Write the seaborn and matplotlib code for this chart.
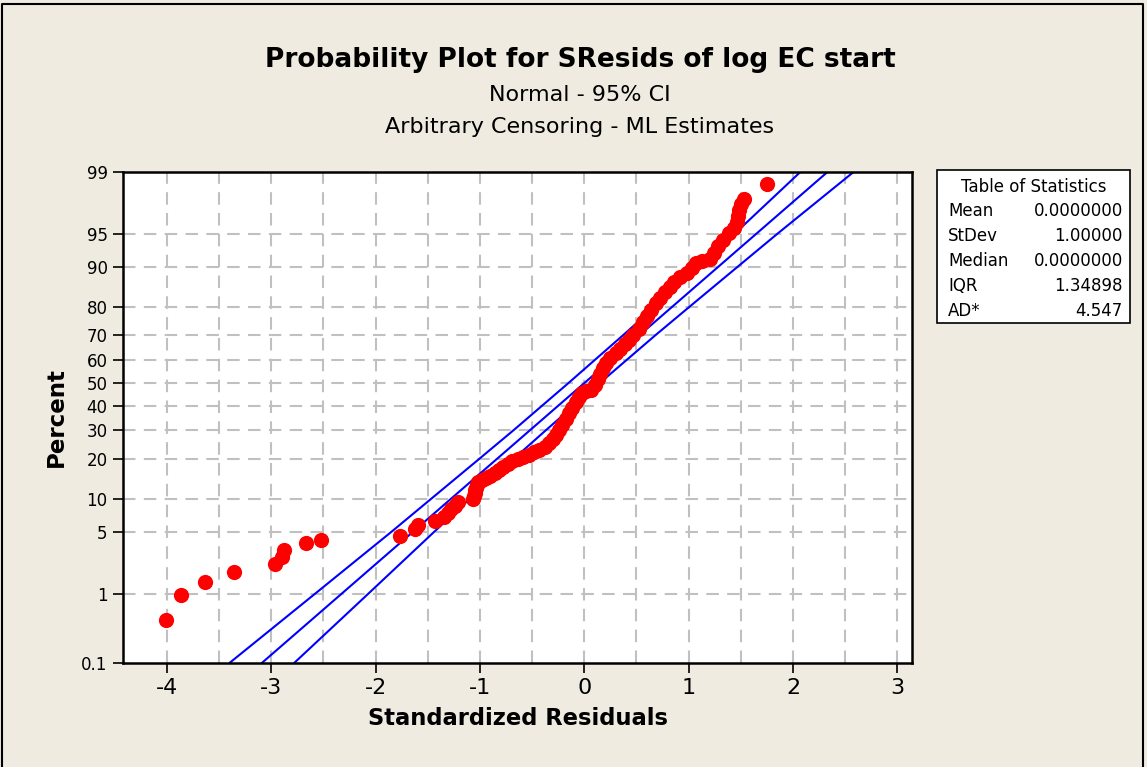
import numpy as np
import matplotlib
matplotlib.use("Agg")
import matplotlib.pyplot as plt
from matplotlib.lines import Line2D
from matplotlib.patches import Rectangle
import seaborn as sns
from statistics import NormalDist

# ---------------- data ----------------
resid_x = [-4.01, -3.86, -3.63, -3.36, -2.96, -2.90, -2.88, -2.67, -2.52,
           -1.77, -1.62, -1.59, -1.43, -1.34, -1.31, -1.28, -1.24, -1.21,
           -1.07, -1.06, -1.05, -1.05, -1.04, -1.03, -1.02, -0.98, -0.94,
           -0.90, -0.86, -0.82, -0.78, -0.73, -0.69, -0.64, -0.59, -0.53,
           -0.48, -0.43, -0.38, -0.34, -0.30, -0.27, -0.24, -0.21, -0.18,
           -0.15, -0.12, -0.08, -0.05, -0.02, 0.02, 0.06, 0.10, 0.13,
           0.15, 0.18, 0.21, 0.25, 0.30, 0.34, 0.39, 0.43, 0.47,
           0.52, 0.56, 0.60, 0.64, 0.69, 0.73, 0.77, 0.82, 0.86,
           0.92, 0.98, 1.03, 1.07, 1.13, 1.20, 1.24, 1.28, 1.33,
           1.39, 1.43, 1.46, 1.47, 1.48, 1.50, 1.53, 1.75]
resid_pct = [0.45, 0.95, 1.42, 1.85, 2.3, 2.77, 3.3, 3.85, 4.2,
             4.6, 5.3, 5.8, 6.4, 7.0, 7.6, 8.2, 8.8, 9.4,
             10.0, 10.6, 11.2, 11.8, 12.4, 13.0, 13.6, 14.1, 14.6,
             15.2, 15.9, 16.8, 17.8, 18.6, 19.3, 20.2, 20.8, 21.4,
             22.2, 23.0, 24.1, 25.3, 26.8, 28.4, 30.2, 32.3, 34.5,
             36.9, 39.0, 41.5, 44.0, 45.5, 46.3, 47.0, 49.0, 51.5,
             54.0, 56.5, 58.6, 60.8, 62.8, 64.5, 66.5, 68.2, 70.2,
             72.5, 74.8, 77.0, 79.0, 81.0, 82.6, 84.1, 85.6, 86.8,
             87.8, 88.8, 89.8, 90.7, 91.0, 91.4, 92.4, 93.4, 94.3,
             95.1, 95.6, 96.2, 96.7, 97.2, 97.6, 97.9, 98.6]

fit_x = [-3.09, 2.33]
fit_pct = [0.1, 99]

band_pct = [0.1, 1, 5, 10, 20, 30, 50, 70, 80, 90, 95, 99]
band_lower_x = [-3.40, -2.58, -1.85, -1.47, -1.01, -0.68, -0.15, 0.37, 0.68, 1.10, 1.44, 2.07]
band_upper_x = [-2.78, -2.07, -1.44, -1.10, -0.68, -0.37, 0.15, 0.68, 1.01, 1.47, 1.85, 2.58]

y_ticks = [0.1, 1, 5, 10, 20, 30, 40, 50, 60, 70, 80, 90, 95, 99]
y_tick_labels = ["0.1", "1", "5", "10", "20", "30", "40", "50", "60", "70", "80", "90", "95", "99"]
x_ticks = [-4, -3, -2, -1, 0, 1, 2, 3]

stat_names = ["Mean", "StDev", "Median", "IQR", "AD*"]
stat_values = ["0.0000000", "1.00000", "0.0000000", "1.34898", "4.547"]

# ---------------- plot ----------------
sns.set_theme(style="white")
plt.rcParams['font.family'] = ['DejaVu Sans']
plt.rcParams['text.color'] = 'black'
plt.rcParams['axes.labelcolor'] = 'black'
plt.rcParams['xtick.color'] = 'black'
plt.rcParams['ytick.color'] = 'black'
BG = "#EFEBE1"

fig = plt.figure(figsize=(11.47, 7.67), dpi=100, facecolor=BG)
ax = fig.add_axes([123/1147, 1-663/767, (912-123)/1147, (663-172)/767])
ax.set_facecolor("white")

nd = NormalDist()
_ppf = np.vectorize(lambda p: nd.inv_cdf(min(max(p / 100.0, 1e-9), 1 - 1e-9)), otypes=[float])
_cdf = np.vectorize(lambda z: 100.0 * nd.cdf(z), otypes=[float])


def fwd(p):
    return _ppf(np.asarray(p, dtype=float))


def inv(z):
    return _cdf(np.asarray(z, dtype=float))


sns.lineplot(x=fit_x, y=fit_pct, ax=ax, color="#0000FF", lw=1.5, sort=False, estimator=None)
sns.lineplot(x=band_lower_x, y=band_pct, ax=ax, color="#0000FF", lw=1.5, sort=False, estimator=None)
sns.lineplot(x=band_upper_x, y=band_pct, ax=ax, color="#0000FF", lw=1.5, sort=False, estimator=None)
sns.scatterplot(x=resid_x, y=resid_pct, ax=ax, color="#FF0000", s=120, linewidth=0, zorder=5)

ax.set_yscale("function", functions=(fwd, inv))
ax.set_ylim(0.1, 99)
ax.set_xlim(-4.42, 3.14)

ax.set_yticks(y_ticks)
ax.set_yticklabels(y_tick_labels, fontsize=12)
ax.set_xticks(x_ticks)
ax.set_xticklabels([str(v) for v in x_ticks], fontsize=16)
ax.yaxis.set_minor_locator(matplotlib.ticker.NullLocator())
ax.xaxis.set_minor_locator(matplotlib.ticker.NullLocator())
ax.tick_params(axis="both", direction="out", length=7, width=1.2, color="black",
               labelcolor="black", bottom=True, left=True, pad=4)

gridkw = dict(color="#C0C0C0", lw=1.5, ls=(0, (6, 4)), zorder=0)
for gx in np.arange(-4, 3.01, 0.5):
    ax.axvline(gx, **gridkw)
for gy in y_ticks[1:-1]:
    ax.axhline(gy, **gridkw)

for sp in ax.spines.values():
    sp.set_color("black")
    sp.set_linewidth(1.8)

ax.set_xlabel("Standardized Residuals", fontsize=16.3, fontweight="bold", labelpad=6, color="black")
ax.set_ylabel("Percent", fontsize=16.5, fontweight="bold", labelpad=10, color="black")

fig.text(580/1147, 1-60/767, "Probability Plot for SResids of log EC start",
         ha="center", va="center", fontsize=19, fontweight="bold", color="black")
fig.text(580/1147, 1-95/767, "Normal - 95% CI", ha="center", va="center", fontsize=16, color="black")
fig.text(580/1147, 1-127/767, "Arbitrary Censoring - ML Estimates", ha="center", va="center",
         fontsize=16, color="black")

# statistics table
fig.add_artist(Rectangle((937/1147, 1-323/767), (1130-937)/1147, (323-170)/767,
                         transform=fig.transFigure, facecolor="white", edgecolor="black", lw=1.2))
fig.text((937+1130)/2/1147, 1-187/767, "Table of Statistics", ha="center", va="center",
         fontsize=12, color="black")
for i, (nm, vl) in enumerate(zip(stat_names, stat_values)):
    yy = 1 - (211 + 25*i)/767
    fig.text(948/1147, yy, nm, ha="left", va="center", fontsize=12, color="black")
    fig.text(1123/1147, yy, vl, ha="right", va="center", fontsize=12, color="black")

# window border
fig.add_artist(Line2D([2/1147, 2/1147, 1143/1147, 1143/1147], [0, 1-4/767, 1-4/767, 0],
                      transform=fig.transFigure, color="black", lw=1.5))

fig.savefig("out.png", dpi=100, facecolor=BG)
